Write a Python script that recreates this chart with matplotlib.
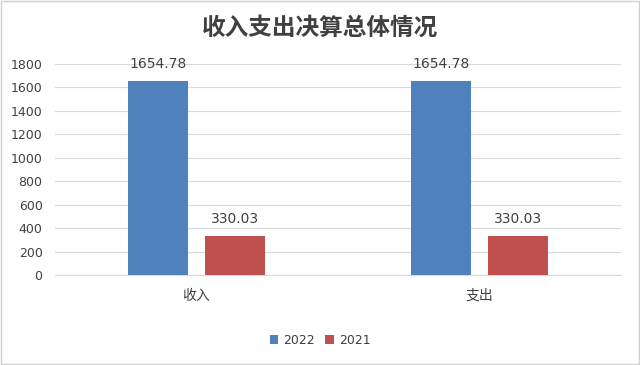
import numpy as np
import matplotlib.pyplot as plt

plt.rcParams['font.family'] = ['DejaVu Sans', 'Noto Sans CJK SC']

categories = ['收入', '支出']
series = ['2022', '2021']
values_2022 = [1654.78, 1654.78]
values_2021 = [330.03, 330.03]
colors = ['#4F81BD', '#C0504D']

fig = plt.figure(figsize=(6.4, 3.65), dpi=100)
ax = fig.add_axes([0.086, 0.2466, 0.884, 0.578])

x = np.arange(len(categories)) + 0.5
w = 0.212
off = 0.136
for vals, name, c, d in zip([values_2022, values_2021], series, colors, [-off, off]):
    bars = ax.bar(x + d, vals, w, color=c, label=name, zorder=3)
    for b, v in zip(bars, vals):
        ax.text(b.get_x() + b.get_width() / 2, v + 85, f'{v:.2f}',
                ha='center', va='bottom', fontsize=10, color='#404040')

ax.set_xlim(0, 2)
ax.set_ylim(0, 1800)
ax.set_yticks(range(0, 1801, 200))
ax.set_xticks(x)
ax.set_xticklabels(categories, family=['Noto Sans CJK SC'])
ax.grid(axis='y', color='#d9d9d9', linewidth=0.8, zorder=0)
for s in ['top', 'right', 'left']:
    ax.spines[s].set_visible(False)
ax.spines['bottom'].set_color('#d9d9d9')
ax.tick_params(length=0, labelsize=9, colors='#404040')
ax.tick_params(axis='y', pad=9)
ax.tick_params(axis='x', pad=10, labelsize=10)

fig.suptitle('收入支出决算总体情况', y=0.958, fontsize=17, fontweight='bold', color='#404040',
             family=['Noto Sans CJK SC'])
fig.legend(loc='center', bbox_to_anchor=(0.5, 0.068), ncol=2, frameon=False,
           fontsize=9, handlelength=0.7, handleheight=0.7, handletextpad=0.4,
           columnspacing=0.8, labelcolor='#404040')

fig.patches.append(plt.Rectangle((0.002, 0.003), 0.996, 0.994, transform=fig.transFigure,
                                 fill=False, edgecolor='#d0d0d0', linewidth=1))
fig.savefig('out.png', dpi=100)
